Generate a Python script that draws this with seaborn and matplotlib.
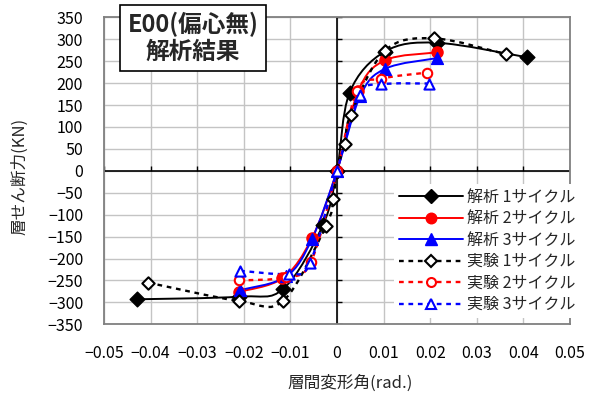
import numpy as np
import matplotlib
matplotlib.use("Agg")
import matplotlib.pyplot as plt
import seaborn as sns
from matplotlib.path import Path
from matplotlib.patches import PathPatch
from matplotlib.lines import Line2D

sns.set_theme(style="white")
plt.rcParams['font.family'] = ['Noto Sans CJK JP', 'DejaVu Sans']
plt.rcParams['axes.unicode_minus'] = True

# ---------------- data ----------------
ana1_x = [-0.043, -0.021, -0.0115, -0.0030, 0.0, 0.0027, 0.0103, 0.0214, 0.0407]
ana1_y = [-293, -287, -269, -123, 0, 178, 272, 292, 259]

ana2_x = [-0.0210, -0.0117, -0.0054, 0.0, 0.0046, 0.0103, 0.0214]
ana2_y = [-276, -245, -154, 0, 183, 252, 270]

ana3_x = [-0.0208, -0.0109, -0.0054, 0.0, 0.0050, 0.0104, 0.0215]
ana3_y = [-272, -241, -156, 0, 171, 233, 257]

exp1_x = [-0.0405, -0.0210, -0.0115, -0.0024, -0.0008, 0.0, 0.0017, 0.0029, 0.0103, 0.0208, 0.0362]
exp1_y = [-255, -297, -296, -126, -65, 0, 62, 127, 274, 302, 266]

exp2_x = [-0.0210, -0.0110, -0.0056, 0.0, 0.0043, 0.0095, 0.0194]
exp2_y = [-250, -243, -208, 0, 183, 210, 224]

exp3_x = [-0.0208, -0.0103, -0.0058, 0.0, 0.0049, 0.0095, 0.0197]
exp3_y = [-228, -235, -210, 0, 173, 197, 199]

labels = ["解析 1サイクル", "解析 2サイクル", "解析 3サイクル",
          "実験 1サイクル", "実験 2サイクル", "実験 3サイクル"]

x_ticks = [-0.05, -0.04, -0.03, -0.02, -0.01, 0.0, 0.01, 0.02, 0.03, 0.04, 0.05]
x_tick_labels = ["−0.05", "−0.04", "−0.03", "−0.02", "−0.01", "0",
                 "0.01", "0.02", "0.03", "0.04", "0.05"]
y_ticks = [-350, -300, -250, -200, -150, -100, -50, 0, 50, 100, 150, 200, 250, 300, 350]
y_tick_labels = ["−350", "−300", "−250", "−200", "−150", "−100", "−50", "0",
                 "50", "100", "150", "200", "250", "300", "350"]

title_text = "E00(偏心無)\n解析結果"
x_label = "層間変形角(rad.)"
y_label = "層せん断力(KN)"

# ---------------- helpers ----------------
def smooth_path(xs, ys):
    P = np.column_stack([xs, ys]).astype(float)
    n = len(P)
    verts = [P[0]]
    codes = [Path.MOVETO]
    for i in range(n - 1):
        p0 = P[i - 1] if i > 0 else P[i]
        p1 = P[i]
        p2 = P[i + 1]
        p3 = P[i + 2] if i + 2 < n else P[i + 1]
        c1 = p1 + (p2 - p0) / 6.0
        c2 = p2 - (p3 - p1) / 6.0
        verts += [c1, c2, p2]
        codes += [Path.CURVE4] * 3
    return Path(verts, codes)

fig = plt.figure(figsize=(5.94, 3.94), dpi=100)
ax = fig.add_axes([104 / 594, 1 - 324.3 / 394, 466 / 594, 307 / 394])
ax.set_xlim(-0.05, 0.05)
ax.set_ylim(-350, 350)
ax.set_xticks(x_ticks)
ax.set_xticklabels(x_tick_labels)
ax.set_yticks(y_ticks)
ax.set_yticklabels(y_tick_labels)
ax.tick_params(length=0, pad=15, labelsize=11.5, colors='black')
ax.grid(True, color='#c4c4c4', lw=1.0)
ax.set_axisbelow(True)
for s in ax.spines.values():
    s.set_color('#808080')
    s.set_linewidth(1.3)

# zero axes with tick marks
ax.axhline(0, color='black', lw=1.2, zorder=2)
ax.axvline(0, color='black', lw=1.2, zorder=2)
ax.vlines(x_ticks, 0, 10, color='black', lw=1.0, zorder=2)
ax.hlines(y_ticks, 0, 0.0011, color='black', lw=1.0, zorder=2)

series = [
    (ana1_x, ana1_y, 'black', '-', 'D', True, 7.5),
    (ana2_x, ana2_y, 'red', '-', 'o', True, 8.0),
    (ana3_x, ana3_y, 'blue', '-', '^', True, 8.5),
    (exp1_x, exp1_y, 'black', (0, (2, 2)), 'D', False, 6.3),
    (exp2_x, exp2_y, 'red', (0, (2, 2)), 'o', False, 6.8),
    (exp3_x, exp3_y, 'blue', (0, (2, 2)), '^', False, 7.3),
]

handles = []
for xs, ys, c, ls, mk, filled, ms in series:
    lw = 1.4 if filled else 1.7
    ax.add_patch(PathPatch(smooth_path(xs, ys), fill=False, edgecolor=c,
                           lw=lw, linestyle=ls, zorder=3, capstyle='butt'))
for xs, ys, c, ls, mk, filled, ms in series:
    if filled:
        sns.scatterplot(x=xs, y=ys, marker=mk, s=ms ** 2, color=c,
                        edgecolor=c, linewidth=1.0, zorder=5, ax=ax, legend=False)
    else:
        sns.scatterplot(x=xs, y=ys, marker=mk, s=ms ** 2, color='white',
                        edgecolor=c, linewidth=1.5, zorder=6, ax=ax, legend=False)
    lw = 1.4 if filled else 1.7
    handles.append(Line2D([], [], color=c, lw=lw, linestyle=ls, marker=mk,
                          markersize=ms * 0.95,
                          markerfacecolor=c if filled else 'white',
                          markeredgecolor=c, markeredgewidth=1.0 if filled else 1.5))

ax.set_xlabel("")
ax.set_ylabel("")

leg = ax.legend(handles, labels, loc='upper left',
                bbox_to_anchor=(394 / 594, 1 - 184 / 394), bbox_transform=fig.transFigure,
                frameon=True, facecolor='white', edgecolor='none', framealpha=1,
                fancybox=False, borderpad=0.3, handlelength=4.0, handletextpad=0.3,
                labelspacing=0.28, fontsize=11.5, borderaxespad=0)
leg.set_zorder(10)

fig.text(193 / 594, 1 - 38 / 394, title_text, ha='center', va='center',
         fontsize=17, fontweight='bold', linespacing=1.15,
         bbox=dict(boxstyle='square,pad=0.3', fc='white', ec='black', lw=1.2))
fig.text(20 / 594, 1 - 176 / 394, y_label, rotation=90, ha='center', va='center',
         fontsize=12)
fig.text(350 / 594, 1 - 383 / 394, x_label, ha='center', va='center', fontsize=12)

fig.savefig("out.png", dpi=100, facecolor='white')
